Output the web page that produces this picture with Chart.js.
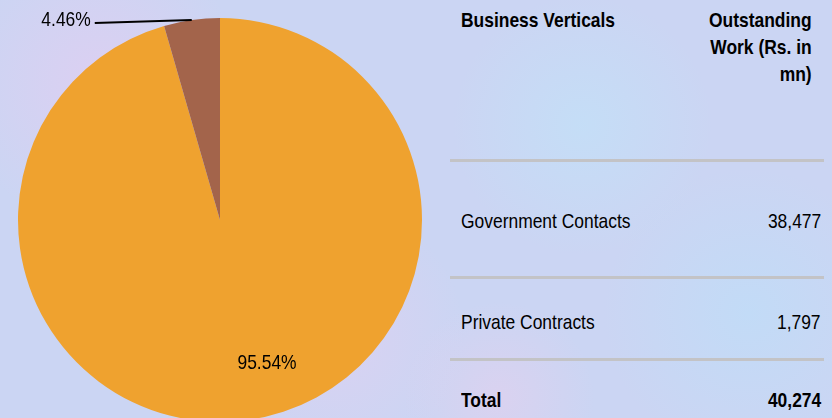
<!DOCTYPE html>
<html>
<head>
<meta charset="utf-8">
<script src="https://cdn.jsdelivr.net/npm/chart.js@4.4.0/dist/chart.umd.min.js"></script>
<style>
    html, body {
        margin: 0;
        padding: 0;
        width: 832px;
        height: 418px;
        overflow: hidden;
    }
    body {
        position: relative;
        font-family: 'Liberation Sans Narrow', 'Arial Narrow', 'Liberation Sans', sans-serif;
        font-size: 21px;
        color: #000;
        background-color: #cbd5f3;
        background-image:
            radial-gradient(circle at 12% 20%, rgba(240, 200, 240, 0.45) 0, rgba(240, 200, 240, 0) 18%),
            radial-gradient(circle at 70% 30%, rgba(190, 230, 250, 0.5) 0, rgba(190, 230, 250, 0) 20%),
            radial-gradient(circle at 40% 80%, rgba(235, 205, 240, 0.45) 0, rgba(235, 205, 240, 0) 22%),
            radial-gradient(circle at 90% 75%, rgba(185, 225, 250, 0.5) 0, rgba(185, 225, 250, 0) 18%),
            radial-gradient(circle at 60% 95%, rgba(240, 205, 235, 0.4) 0, rgba(240, 205, 235, 0) 15%);
    }
    #chartBox {
        position: absolute;
        left: 0;
        top: 0;
        width: 440px;
        height: 440px;
    }
    .cell {
        position: absolute;
        line-height: 27px;
        white-space: nowrap;
        transform: scaleX(0.83);
        transform-origin: left center;
    }
    .bold { font-weight: bold; }
    .right {
        text-align: right;
        transform-origin: right center;
    }
    .rule {
        position: absolute;
        left: 450px;
        width: 374px;
        height: 3px;
        background: #c3c3c6;
    }
</style>
</head>
<body>
<div id="chartBox"><canvas id="pieChart" width="440" height="440"></canvas></div>
<div id="table"></div>

<script>
    const categories = ['Government Contacts', 'Private Contracts'];
    const values = [38477, 1797];
    const sliceColors = ['#EFA22F', '#A3644B'];
    const headers = ['Business Verticals', 'Outstanding<br>Work (Rs. in<br>mn)'];
    const totalLabel = 'Total';

    const total = values.reduce(function (a, b) { return a + b; }, 0);

    function formatNumber(v) {
        return v.toLocaleString('en-US');
    }

    function pct(v) {
        return (v / total * 100).toFixed(2) + '%';
    }

    // build the table on the right
    const table = document.getElementById('table');
    function addCell(html, css, cls) {
        const d = document.createElement('div');
        d.className = 'cell ' + (cls || '');
        d.innerHTML = html;
        Object.assign(d.style, css);
        table.appendChild(d);
    }
    function addRule(top) {
        const d = document.createElement('div');
        d.className = 'rule';
        d.style.top = top + 'px';
        table.appendChild(d);
    }

    addCell(headers[0], { left: '461px', top: '6px' }, 'bold');
    addCell(headers[1], { right: '20px', top: '6px' }, 'bold right');

    const rowTops = [207, 308];
    const ruleTops = [159, 276, 358];
    categories.forEach(function (cat, i) {
        addCell(cat, { left: '461px', top: rowTops[i] + 'px' });
        addCell(formatNumber(values[i]), { right: '11px', top: rowTops[i] + 'px' }, 'right');
    });
    addCell(totalLabel, { left: '461px', top: '386px' }, 'bold');
    addCell(formatNumber(total), { right: '11px', top: '386px' }, 'bold right');
    ruleTops.forEach(addRule);

    // narrow-looking text on the canvas
    function narrowText(ctx, text, x, y, align) {
        ctx.save();
        ctx.translate(x, y);
        ctx.scale(0.83, 1);
        ctx.textAlign = align;
        ctx.fillText(text, 0, 0);
        ctx.restore();
    }

    // percent labels on the pie
    const pieLabels = {
        id: 'pieLabels',
        afterDatasetsDraw: function (chart) {
            const ctx = chart.ctx;
            const arcs = chart.getDatasetMeta(0).data;
            ctx.save();
            ctx.font = '21px "Liberation Sans Narrow", "Arial Narrow", "Liberation Sans", sans-serif';
            ctx.fillStyle = '#000';
            ctx.textBaseline = 'middle';
            arcs.forEach(function (arc, i) {
                const mid = (arc.startAngle + arc.endAngle) / 2;
                const text = pct(values[i]);
                if (values[i] / total > 0.2) {
                    const r = arc.outerRadius * 0.71;
                    narrowText(ctx, text, arc.x + Math.cos(mid) * r + 27, arc.y + Math.sin(mid) * r + 1, 'center');
                } else {
                    // small slice: leader line out to the left
                    const px = arc.x + Math.cos(mid) * arc.outerRadius;
                    const py = arc.y + Math.sin(mid) * arc.outerRadius;
                    const ex = px - 97;
                    const ey = py + 3;
                    ctx.strokeStyle = '#000';
                    ctx.lineWidth = 2;
                    ctx.beginPath();
                    ctx.moveTo(px, py);
                    ctx.lineTo(ex, ey);
                    ctx.stroke();
                    narrowText(ctx, text, ex - 4, ey - 3, 'right');
                }
            });
            ctx.restore();
        }
    };

    const ctx = document.getElementById('pieChart').getContext('2d');
    new Chart(ctx, {
        type: 'pie',
        data: {
            labels: categories,
            datasets: [{
                data: values,
                backgroundColor: sliceColors,
                borderWidth: 0
            }]
        },
        options: {
            responsive: false,
            animation: false,
            layout: { padding: 18 },
            plugins: {
                legend: { display: false },
                tooltip: { enabled: false }
            }
        },
        plugins: [pieLabels]
    });
</script>
</body>
</html>
